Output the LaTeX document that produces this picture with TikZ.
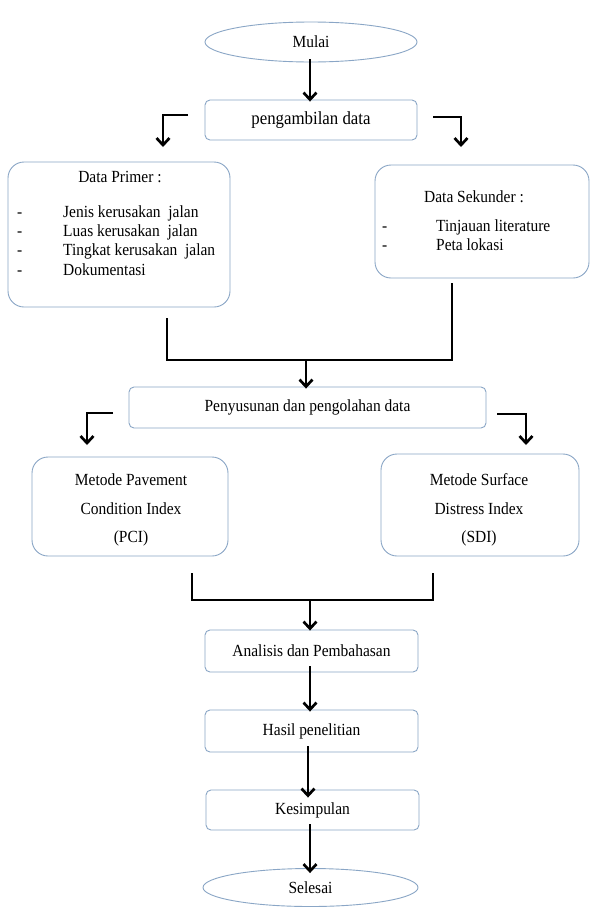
\documentclass[tikz,border=0pt]{standalone}
\usepackage{fontspec}
\setmainfont{Liberation Serif}[FakeStretch=0.91]
\usetikzlibrary{arrows.meta,shapes.geometric}
\definecolor{boxblue}{HTML}{8AA6C6}
\tikzset{
  box/.style={draw=boxblue, line width=0.9pt, fill=white, rounded corners=5pt, inner sep=0pt, align=center},
  bigbox/.style={box, rounded corners=16pt},
  oval/.style={ellipse, draw=boxblue, line width=0.9pt, fill=white, inner sep=0pt},
  arr/.style={line width=2.7pt, -{Straight Barb[length=7pt,width=13pt]}},
  joinline/.style={line width=2.7pt},
  txt/.style={inner sep=0pt},
}
\begin{document}
\begin{tikzpicture}[x=1pt,y=-1pt, font=\fontsize{17}{19}\selectfont]
\useasboundingbox[fill=white] (0,0) rectangle (595,908);

% nodes
\node[oval, minimum width=212pt, minimum height=40pt] (mulai) at (311,42) {Mulai};
\node[box, minimum width=212pt, minimum height=40pt, font=\fontsize{18.5}{20}\selectfont] (pd) at (311,120) {pengambilan data};
\node[bigbox, minimum width=222pt, minimum height=145pt] (prim) at (119,234.5) {};
\node[bigbox, minimum width=214pt, minimum height=113pt] (sek) at (482,221.5) {};
\node[box, minimum width=357pt, minimum height=41pt] (pen) at (307.5,407.5) {Penyusunan dan pengolahan data};
\node[bigbox, minimum width=196pt, minimum height=99pt] (pci) at (130,506.5) {};
\node[bigbox, minimum width=198pt, minimum height=102pt] (sdi) at (480,505) {};
\node[box, minimum width=213pt, minimum height=42pt] (ana) at (311.5,651) {Analisis dan Pembahasan};
\node[box, minimum width=213pt, minimum height=42pt] (has) at (311.5,731) {Hasil penelitian};
\node[box, minimum width=213pt, minimum height=40pt] (kes) at (312.5,810) {Kesimpulan};
\node[oval, minimum width=215pt, minimum height=38pt] (sel) at (310.5,887.5) {Selesai};

% texts in Data Primer
\node[txt, anchor=base] (pt) at (120,182) {Data Primer :};
\node[txt, anchor=base west] (pd1) at (17,217) {-};
\node[txt, anchor=base west] (pi1) at (63,217) {Jenis kerusakan\ \ jalan};
\node[txt, anchor=base west] (pd2) at (17,236) {-};
\node[txt, anchor=base west] (pi2) at (63,236) {Luas kerusakan\ \ jalan};
\node[txt, anchor=base west] (pd3) at (17,255) {-};
\node[txt, anchor=base west] (pi3) at (63,255) {Tingkat kerusakan\ \ jalan};
\node[txt, anchor=base west] (pd4) at (17,275) {-};
\node[txt, anchor=base west] (pi4) at (63,275) {Dokumentasi};

% texts in Data Sekunder
\node[txt, anchor=base] (st) at (474,202) {Data Sekunder :};
\node[txt, anchor=base west] (sd1) at (382,231) {-};
\node[txt, anchor=base west] (si1) at (436,231) {Tinjauan literature};
\node[txt, anchor=base west] (sd2) at (382,250) {-};
\node[txt, anchor=base west] (si2) at (436,250) {Peta lokasi};

% texts in method boxes
\node[txt] (c1) at (131,480) {Metode Pavement};
\node[txt] (c2) at (131,509) {Condition Index};
\node[txt] (c3) at (131,538) {(PCI)};
\node[txt] (s1) at (479,480) {Metode Surface};
\node[txt] (s2) at (479,509) {Distress Index};
\node[txt] (s3) at (479,538) {(SDI)};

% coordinates for elbows and joins
\coordinate (l1a) at (188,115);
\coordinate (l1b) at (163,115);
\coordinate (l1c) at (163,147);
\coordinate (r1a) at (433,117);
\coordinate (r1b) at (461,117);
\coordinate (r1c) at (461,147);

\coordinate (ja) at (167,318);
\coordinate (jb) at (167,360);
\coordinate (jc) at (452,360);
\coordinate (jd) at (452,283);
\coordinate (jm) at (306,360);

\coordinate (l2a) at (113,413);
\coordinate (l2b) at (87,413);
\coordinate (l2c) at (87,445);
\coordinate (r2a) at (497,414);
\coordinate (r2b) at (526,414);
\coordinate (r2c) at (526,445);

\coordinate (ka) at (192,573);
\coordinate (kb) at (192,600);
\coordinate (kc) at (433,600);
\coordinate (kd) at (433,573);
\coordinate (km) at (310,600);

% connectors
\draw[arr] ([yshift=3pt]mulai.south -| 310,0) -- ([yshift=-2pt]pd.north -| 310,0);
\draw[arr] (l1a) -- (l1b) -- (l1c);
\draw[arr] (r1a) -- (r1b) -- (r1c);
\draw[joinline] (ja) -- (jb) -- (jc) -- (jd);
\draw[arr] (jm) -- ([yshift=-2pt]pen.north -| jm);
\draw[arr] (l2a) -- (l2b) -- (l2c);
\draw[arr] (r2a) -- (r2b) -- (r2c);
\draw[joinline] (ka) -- (kb) -- (kc) -- (kd);
\draw[arr] (km) -- ([yshift=-1pt]ana.north -| km);
\draw[arr] ([yshift=6pt]ana.south -| 310,0) -- ([yshift=-2pt]has.north -| 310,0);
\draw[arr] ([yshift=6pt]has.south -| 308,0) -- ([yshift=-8pt]kes.north -| 308,0);
\draw[arr] ([yshift=6pt]kes.south -| 310,0) -- ([yshift=-5pt]sel.north -| 310,0);
\end{tikzpicture}
\end{document}
